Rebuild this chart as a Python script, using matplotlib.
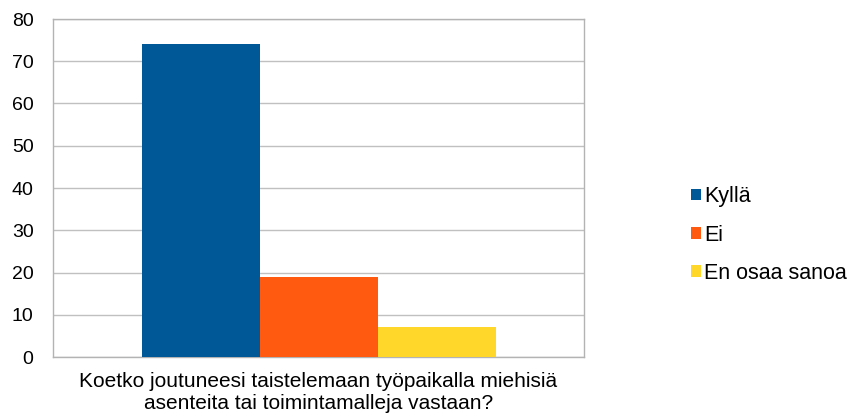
import matplotlib.pyplot as plt
import numpy as np

plt.rcParams['font.family'] = ['Liberation Sans', 'DejaVu Sans']

series = ["Kyllä", "Ei", "En osaa sanoa"]
values = [74, 19, 7]
colors = ["#005896", "#ff5a10", "#ffd62a"]
category = "Koetko joutuneesi taistelemaan työpaikalla miehisiä\nasenteita tai toimintamalleja vastaan?"

fig = plt.figure(figsize=(8.51, 4.19), dpi=100)
ax = fig.add_axes([53/851, 1 - 357/419, 531/851, 338/419])

w = 2/3 / len(series)
for i, (name, val, col) in enumerate(zip(series, values, colors)):
    ax.bar((i - 1) * w, val, width=w, color=col, label=name, zorder=3)

ax.set_xlim(-0.5, 0.5)
ax.set_ylim(0, 80)
ax.set_yticks(range(0, 81, 10))
ax.set_xticks([0])
ax.set_xticklabels([category], fontsize=15, linespacing=1.15)
ax.tick_params(axis='both', length=0, colors='black')
ax.tick_params(axis='y', pad=14, labelsize=14)
ax.tick_params(axis='x', pad=11)
ax.grid(True, axis='y', color='#c0c0c0', linewidth=1, zorder=0)
for s in ax.spines.values():
    s.set_color('#b3b3b3')
    s.set_linewidth(1)

ax.legend(loc='center left', bbox_to_anchor=(691/851, 1 - 235/419), bbox_transform=fig.transFigure,
          frameon=False, fontsize=15.5, handlelength=0.45, handleheight=0.45, handletextpad=0.15,
          labelspacing=0.8, borderpad=0, borderaxespad=0)

fig.savefig("out.png", dpi=100)
